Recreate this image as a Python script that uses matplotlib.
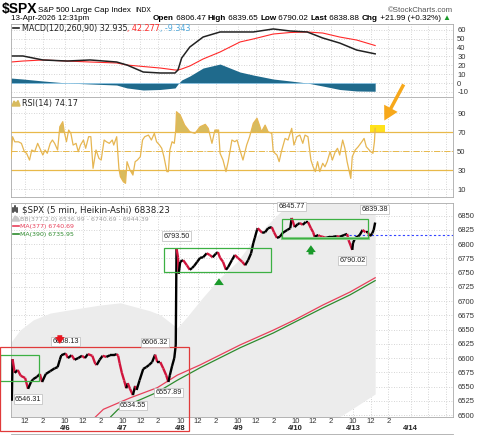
import matplotlib
matplotlib.use('Agg')
import matplotlib.pyplot as plt
import matplotlib.transforms as mtrans
import numpy as np
from matplotlib.collections import LineCollection
from matplotlib.patches import Rectangle, Polygon, FancyArrowPatch
from matplotlib.lines import Line2D

# x axis = 5-minute bar number, 78 bars per session
# session 0 = 4/2, 1 = 4/6, 2 = 4/7, 3 = 4/8, 4 = 4/9, 5 = 4/10, 6 = 4/13, 7 = 4/14
sessions = ['4/2', '4/6', '4/7', '4/8', '4/9', '4/10', '4/13', '4/14']
hour_ticks = [(6, '10'), (30, '12'), (54, '2')]

# Heikin-Ashi closes
px_bar = [
    12, 13, 16, 20, 24, 30, 34, 38, 41, 46,
    50, 53, 58, 64, 70, 74, 77, 79, 85, 88,
    93, 97, 102, 107, 111, 115, 121, 125, 127, 131,
    135, 140, 145, 150, 154, 156, 158, 161, 164, 167,
    169, 172, 176, 179, 181, 185, 190, 194, 198, 202,
    206, 209, 213, 217, 221, 224, 226, 229, 232, 234,
    235, 237, 238, 240, 244, 249, 253, 256, 259, 263,
    267, 271, 276, 280, 284, 288, 291, 294, 298, 302,
    305, 310, 314, 318, 324, 328, 332, 336, 339, 341,
    344, 345, 351, 355, 359, 364, 367, 371, 375, 379,
    385, 389, 391, 395, 399, 402, 406, 410, 413, 417,
    420, 422, 427, 429, 433, 437, 443, 447, 452, 456,
    462, 466, 468, 471, 473, 474, 477, 481, 483, 487,
    491, 494, 497, 500, 502, 504]
px_val = [
    6525, 6598, 6574, 6579, 6569, 6565, 6546, 6558, 6563, 6567,
    6572, 6558, 6572, 6577, 6582, 6584, 6597, 6605, 6608, 6600,
    6605, 6597, 6600, 6604, 6600, 6607, 6604, 6590, 6588, 6597,
    6604, 6602, 6605, 6605, 6607, 6604, 6591, 6574, 6561, 6547,
    6556, 6546, 6535, 6551, 6544, 6561, 6581, 6584, 6588, 6593,
    6606, 6593, 6593, 6582, 6570, 6558, 6570, 6586, 6600, 6623,
    6793, 6777, 6748, 6769, 6772, 6763, 6755, 6758, 6762, 6769,
    6776, 6777, 6784, 6781, 6777, 6783, 6786, 6776, 6769, 6755,
    6760, 6772, 6781, 6776, 6769, 6763, 6772, 6784, 6802, 6811,
    6825, 6828, 6820, 6821, 6828, 6830, 6821, 6811, 6813, 6820,
    6825, 6828, 6846, 6830, 6835, 6837, 6834, 6839, 6839, 6828,
    6821, 6813, 6816, 6814, 6813, 6811, 6813, 6813, 6814, 6813,
    6816, 6818, 6807, 6797, 6790, 6802, 6811, 6814, 6816, 6825,
    6821, 6821, 6814, 6819, 6825, 6838]

# labelled highs / lows
hi_bar = [85, 206, 235, 391, 503]
hi_val = [6608.13, 6606.32, 6793.50, 6845.77, 6839.38]
lo_bar = [34, 176, 224, 473]
lo_val = [6546.31, 6534.55, 6557.89, 6790.02]
prev_close = 6816.89

# Bollinger band (377, 2.0)
bb_bar = [11, 23, 41, 64, 87, 131, 159, 179, 199, 213, 226, 236,
          249, 271, 294, 317, 339, 358, 375, 385, 393, 420, 460, 504]
bb_upper = [6628, 6649, 6667, 6679, 6684, 6693, 6697, 6690, 6683, 6676, 6663, 6653,
            6672, 6707, 6741, 6769, 6807, 6834, 6856, 6865, 6876, 6900, 6925, 6944]
bb_lower = [6420, 6418, 6415, 6412, 6410, 6408, 6405, 6410, 6420, 6425, 6430, 6432,
            6430, 6425, 6420, 6425, 6440, 6455, 6462, 6466, 6470, 6475, 6500, 6537]

# moving averages
ma377_bar = [124, 136, 172, 209, 236, 267, 321, 366, 395, 433, 470, 504]
ma377_val = [6495, 6510, 6530, 6548, 6570, 6588, 6623, 6649, 6667, 6693, 6716, 6741]
ma390_bar = [146, 156, 209, 236, 267, 321, 366, 433, 470, 504]
ma390_val = [6497, 6510, 6540, 6561, 6583, 6618, 6644, 6688, 6711, 6736]

# MACD(120,260,90)
macd_bar = [11, 27, 54, 87, 118, 154, 168, 190, 213, 233, 237, 242,
            253, 271, 294, 321, 339, 366, 389, 412, 433, 456, 479, 504]
macd_val = [30.5, 30.5, 26.0, 24.8, 26.0, 23.7, 20.3, 12.4, 11.3, 11.3, 14.7, 28.2,
            40.6, 51.9, 57.6, 57.6, 57.6, 61.0, 58.7, 57.6, 50.8, 45.1, 37.2, 32.9]
signal_val = [23.7, 24.8, 26.0, 24.8, 23.7, 22.6, 20.3, 18.6, 16.9, 14.7, 14.7, 15.8,
              19.2, 27.1, 35.0, 46.3, 49.7, 55.3, 57.0, 57.6, 56.4, 51.9, 48.5, 42.3]
hist_val = [5.6, 4.5, 2.3, 0.0, -1.1, -2.3, -5.6, -7.9, -7.3, -5.6, -1.1, 3.4,
            7.9, 16.9, 21.4, 12.4, 9.0, 4.5, 2.3, 0.0, -3.4, -7.3, -9.0, -9.3]

# RSI(14)
rsi_bar = [11, 13, 16, 21, 25, 29, 32, 36, 39, 43, 47, 50, 54, 57, 60, 64, 67, 70, 74, 77,
           81, 83, 86, 89, 92, 95, 99, 102, 105, 109, 112, 116, 119, 122, 126, 130, 133, 137, 140, 144,
           148, 150, 154, 157, 159, 163, 166, 168, 172, 176, 179, 182, 186, 189, 192, 197, 201, 205, 208, 212,
           215, 218, 222, 224, 226, 229, 232, 234, 235, 240, 246, 253, 260, 267, 274, 278, 283, 287, 292, 294,
           298, 302, 305, 310, 314, 317, 321, 325, 330, 334, 339, 344, 348, 350, 355, 359, 364, 366, 371, 374,
           377, 382, 386, 391, 394, 398, 402, 406, 409, 413, 417, 420, 423, 426, 429, 433, 436, 439, 443, 446,
           450, 453, 456, 460, 463, 466, 469, 471, 473, 477, 481, 486, 489, 492, 496, 498, 501, 503, 504]
rsi_val = [42.6, 65.4, 60, 60, 58.4, 49.6, 47.9, 40.8, 51.4, 49.6, 58.4, 53.2, 46.1, 51.4, 47.9, 58.4, 61.9, 58.4, 51.4, 75.9,
           81.2, 70.6, 60.1, 72.4, 68.9, 56.6, 58.4, 49.6, 56.6, 61.9, 53.2, 65.4, 65.4, 32.1, 51.4, 42.6, 40.8, 61.9, 60.1, 58.4,
           61.9, 56.6, 65.4, 32.1, 23.3, 18, 16.3, 39.1, 30.3, 25, 39.1, 40.8, 44.3, 61.9, 65.4, 67.1, 61.9, 68.9, 60.1, 56.6,
           53.2, 44.3, 28.6, 28.6, 51.4, 60.1, 58.4, 72.4, 91.7, 88.2, 77.6, 70.6, 68.9, 75.9, 78.4, 74.2, 58.4, 72.4, 72.4, 47.9,
           40.8, 28.6, 39.1, 61.9, 60.1, 61.9, 51, 40.8, 56.6, 65.4, 79.5, 84.8, 75.9, 70.6, 77.6, 70.6, 68.9, 49.6, 46.1, 39.1,
           49.6, 63.6, 61.9, 74.2, 56.6, 65.4, 67.1, 58.4, 67.1, 65.4, 40.8, 33.7, 28.6, 39.1, 28.6, 37.4, 33.7, 39.1, 49.6, 40.8,
           49.6, 53.2, 46.1, 61.9, 53.2, 39.1, 28.6, 21.5, 44.3, 51.4, 54.8, 60.1, 63.6, 54.8, 51.4, 49.6, 47.9, 60.1, 74.2]

# ---------------------------------------------------------------- layout
W, H = 480, 436
plt.rcParams['font.family'] = ['Liberation Sans', 'DejaVu Sans']
plt.rcParams['axes.unicode_minus'] = False
fig = plt.figure(figsize=(W / 100, H / 100), dpi=100)
renderer = fig.canvas.get_renderer()


def fx(x):
    return x / W


def fy(y):
    return 1 - y / H


L, R = 11, 453
XLIM = (10.9, 609.4)


def panel(top, bot):
    return fig.add_axes([fx(L), fy(bot), (R - L) / W, (bot - top) / H])


ax_m = panel(24, 97)
ax_r = panel(97, 197)
ax_p = panel(203, 417)

grid_pos = [d * 78 + h for d in range(9) for h, _ in hour_ticks if XLIM[0] <= d * 78 + h <= XLIM[1]]


def style(ax, yticks, ylim):
    ax.set_xlim(*XLIM)
    ax.set_ylim(*ylim)
    ax.set_xticks(grid_pos)
    ax.set_yticks(yticks)
    ax.yaxis.tick_right()
    ax.tick_params(axis='both', length=0, labelbottom=False)
    ax.tick_params(axis='y', labelsize=5.5, pad=3, labelcolor='#333333')
    ax.grid(True, color='#c8c8c8', lw=0.6, ls=(0, (1, 2)))
    ax.set_axisbelow(True)
    for s in ax.spines.values():
        s.set_color('#aaaaaa')
        s.set_linewidth(0.6)


style(ax_m, range(-10, 61, 10), (-15.8, 66.6))
style(ax_r, [10, 30, 50, 70, 90], (1.9, 107.2))
style(ax_p, range(6500, 6851, 25), (6496.5, 6872.3))

# ---------------------------------------------------------------- MACD
ax_m.fill_between(macd_bar, 0, hist_val, color='#1f6a8c', lw=0)
ax_m.plot([macd_bar[0], macd_bar[-1]], [0, 0], color='#8cc4e4', lw=0.6)
ax_m.plot(macd_bar, signal_val, color='#ff2a2a', lw=0.8)
ax_m.plot(macd_bar, macd_val, color='#222222', lw=1.1)

# ---------------------------------------------------------------- RSI
rv = np.array(rsi_val)
ax_r.add_patch(Rectangle((497, 68.9), 20.3, 8.8, color='#ffe21a', lw=0, zorder=1.5))
ax_r.axhline(70, color='#e8b94a', lw=0.9)
ax_r.axhline(30, color='#e8b94a', lw=0.9)
ax_r.axhline(50, color='#e8b94a', lw=0.7, ls='-.')
ax_r.fill_between(rsi_bar, 70, rv, where=rv > 70, interpolate=True, color='#d8bb5e', lw=0)
ax_r.fill_between(rsi_bar, 30, rv, where=rv < 30, interpolate=True, color='#d8bb5e', lw=0)
ax_r.plot(rsi_bar, rv, color='#e6b652', lw=0.9, zorder=3)

# ---------------------------------------------------------------- price
ax_p.fill_between(bb_bar, bb_lower, bb_upper, color='#ececec', lw=0, zorder=0.8)
ax_p.plot(ma377_bar, ma377_val, color='#e8405a', lw=0.9)
ax_p.plot(ma390_bar, ma390_val, color='#2e8b2e', lw=0.9)
ax_p.plot([468, XLIM[1]], [prev_close, prev_close], color='#3344ff', lw=0.8, ls=(0, (2, 2)))

pts = np.column_stack([px_bar, px_val])
segs = np.stack([pts[:-1], pts[1:]], axis=1)
cols = ['#000000' if b >= a else '#d0143c' for a, b in zip(px_val[:-1], px_val[1:])]
ax_p.add_collection(LineCollection(segs, colors=cols, linewidths=1.7, capstyle='butt', zorder=4))

box = dict(boxstyle='square,pad=0.15', fc='white', ec='#bbbbbb', lw=0.5)
for b, v in zip(hi_bar, hi_val):
    ax_p.annotate(f'{v:.2f}', (b, v), xytext=(0, 6), textcoords='offset points', ha='center',
                  va='bottom', fontsize=5.2, color='#222222', bbox=box, zorder=6)
for b, v in zip(lo_bar, lo_val):
    ax_p.annotate(f'{v:.2f}', (b, v), xytext=(0, -5), textcoords='offset points', ha='center',
                  va='top', fontsize=5.2, color='#222222', bbox=box, zorder=6)

# annotation boxes
for x0, x1, y0, y1, c in [(-4, 48.8, 6559, 6605, '#3cb043'),
                          (218.5, 362.5, 6751, 6794, '#3cb043'),
                          (378.3, 494.6, 6811, 6844, '#3cb043'),
                          (-4, 252.3, 6472, 6619, '#e03a3a')]:
    ax_p.add_patch(Rectangle((x0, y0), x1 - x0, y1 - y0, fill=False, ec=c, lw=0.9,
                             clip_on=False, zorder=5))
ax_p.plot([378.3, 494.6], [6811, 6811], color='#8fd18f', lw=2.2, zorder=4.5)

up = dict(arrowstyle='simple,head_length=0.7,head_width=1.0,tail_width=0.5',
          color='#1a9a2a', lw=0, mutation_scale=7)
ax_p.annotate('', xy=(292.5, 6745), xytext=(292.5, 6724), arrowprops=up)
ax_p.annotate('', xy=(417, 6803), xytext=(417, 6777), arrowprops=up)
down = dict(up, color='#e8141e')
ax_p.annotate('', xy=(77, 6620), xytext=(77, 6645), arrowprops=down, zorder=7)

fig.add_artist(FancyArrowPatch((fx(405), fy(82)), (fx(383), fy(123)), transform=fig.transFigure,
                               arrowstyle='simple,head_length=1.0,head_width=1.1,tail_width=0.25',
                               mutation_scale=10, color='#f7a81b', lw=0))

# x tick labels under the price panel
tx = mtrans.blended_transform_factory(ax_p.transData, fig.transFigure)
for d, day in enumerate(sessions):
    for h, lbl in hour_ticks:
        pos = d * 78 + h
        if pos < XLIM[0] or d == 7:
            continue
        ax_p.text(pos, fy(417.5), lbl, transform=tx, ha='center', va='top', fontsize=5.5, color='#333333')
    if d >= 1:
        ax_p.text(d * 78 + 6, fy(424.5), day, transform=tx, ha='center', va='top', fontsize=5.5,
                  fontweight='bold', color='#222222')
fig.add_artist(Line2D([fx(L), fx(R)], [fy(434), fy(434)], color='#aaaaaa', lw=0.6))


# ---------------------------------------------------------------- texts
def run(x, y, parts, size, family='DejaVu Sans'):
    for s, color, weight in parts:
        t = fig.text(fx(x), fy(y), s, color=color, fontsize=size, fontweight=weight,
                     family=family, va='baseline')
        x += t.get_window_extent(renderer).width


fig.text(fx(1.5), fy(13.5), '\\$SPX', fontsize=10, fontweight='bold', va='baseline')
fig.text(fx(38.5), fy(11.5), 'S&P 500 Large Cap Index', fontsize=5.8, va='baseline')
fig.text(fx(135), fy(11.5), 'INDX', fontsize=4.8, va='baseline')
fig.text(fx(11), fy(20.5), '13-Apr-2026 12:31pm', fontsize=5.8, va='baseline')
fig.text(fx(453), fy(11.5), '©StockCharts.com', fontsize=5.6, color='#555555', ha='right', va='baseline')
run(153, 20.5, [('Open', 'k', 'bold'), (' 6806.47 ', 'k', 'normal'),
                ('High', 'k', 'bold'), (' 6839.65 ', 'k', 'normal'),
                ('Low', 'k', 'bold'), (' 6790.02 ', 'k', 'normal'),
                ('Last', 'k', 'bold'), (' 6838.88 ', 'k', 'normal'),
                ('Chg', 'k', 'bold'), (' +21.99 (+0.32%) ', 'k', 'normal'),
                ('▲', '#1a9a2a', 'normal')], 5.85, family=['Liberation Sans', 'DejaVu Sans'])

# MACD legend
fig.add_artist(Line2D([fx(12.5), fx(19)], [fy(28.5), fy(28.5)], color='#222222', lw=1.2))
run(21.5, 30.7, [('MACD(120,260,90) 32.935', '#222222', 'normal'), (', 42.277', '#ff2a2a', 'normal'),
                 (', -9.343', '#4ea8dc', 'normal')], 5.8)

# RSI legend
fig.add_artist(Polygon([(fx(12), fy(106)), (fx(14), fy(101)), (fx(16), fy(103.5)), (fx(18), fy(100.5)),
                        (fx(20), fy(106))], closed=True, color='#d8bb5e', transform=fig.transFigure))
run(21.7, 105.7, [('RSI(14) 74.17', '#222222', 'normal')], 5.9)

# price legend
for xx, y0, y1 in [(12.8, 207.5, 212), (14.8, 206.5, 211), (16.8, 208, 212.5)]:
    fig.add_artist(Line2D([fx(xx), fx(xx)], [fy(y0), fy(y1)], color='#222222', lw=1.1))
run(21.5, 212.3, [('\\$SPX (5 min, Heikin-Ashi) 6838.23', '#222222', 'normal')], 6.2)
fig.add_artist(Polygon([(fx(12), fy(221)), (fx(15), fy(216)), (fx(18), fy(218)), (fx(19.5), fy(221))],
                       closed=True, color='#c8c8c8', transform=fig.transFigure))
run(20.5, 220.5, [('BB(377,2.0) 6536.99 - 6740.69 - 6944.39', '#a0a0a0', 'normal')], 4.5)
fig.add_artist(Line2D([fx(12.5), fx(19)], [fy(226), fy(226)], color='#e8405a', lw=1.2))
run(20.5, 228, [('MA(377) 6740.69', '#e8405a', 'normal')], 4.5)
fig.add_artist(Line2D([fx(12.5), fx(19)], [fy(234), fy(234)], color='#2e8b2e', lw=1.2))
run(20.5, 236, [('MA(390) 6735.95', '#2e8b2e', 'normal')], 4.5)

fig.savefig('out.png', dpi=100)
